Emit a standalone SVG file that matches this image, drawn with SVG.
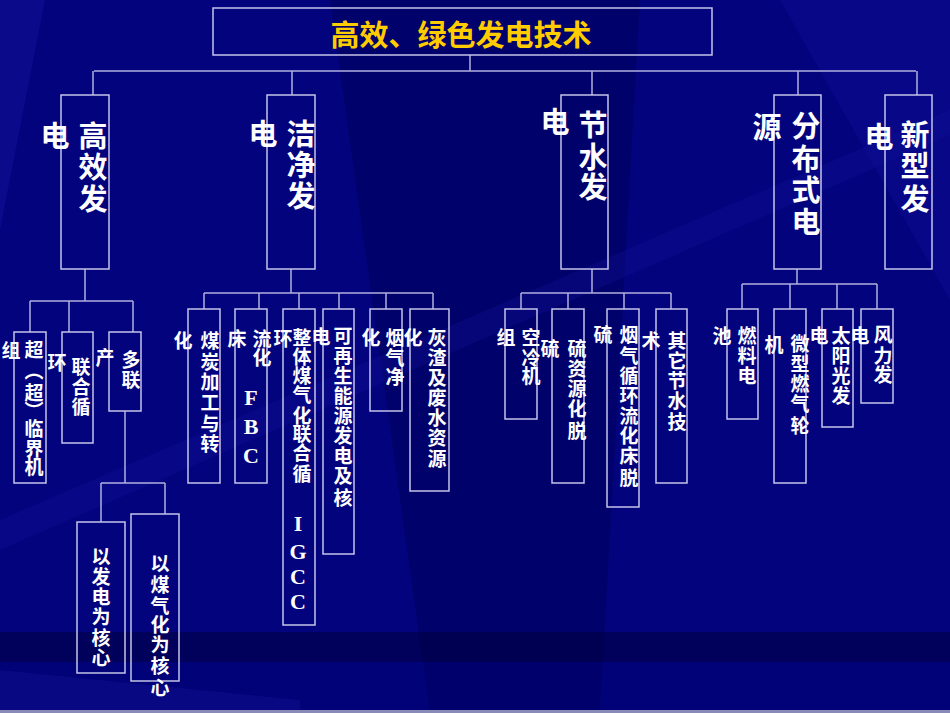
<svg xmlns="http://www.w3.org/2000/svg" width="950" height="713" viewBox="0 0 950 713">
<style>
.bx{fill:none;stroke:#c4c4e8;stroke-width:1.5}
.ln{fill:none;stroke:#b0b0e0;stroke-width:1.5}
.t1{font-family:"Noto Sans CJK SC","Noto Sans CJK TC",sans-serif;font-size:29px;font-weight:bold;fill:#ffffff;text-anchor:middle;dominant-baseline:central}
.t2{font-family:"Noto Sans CJK SC","Noto Sans CJK TC",sans-serif;font-size:19px;font-weight:bold;fill:#ffffff;text-anchor:middle;dominant-baseline:central}
.lt{font-family:"Liberation Serif",serif;font-size:22px;font-weight:bold;fill:#ffffff;text-anchor:middle;dominant-baseline:central}
.tt{font-family:"Noto Sans CJK SC","Noto Sans CJK TC",sans-serif;font-size:29px;font-weight:bold;fill:#ffcc00;text-anchor:middle;dominant-baseline:central}
</style>
<g id="background">
<rect x="0" y="0" width="950" height="713" fill="#03037e"/>
<polygon points="0,0 45,0 0,230" fill="#1a1aa0" opacity="0.35"/>
<polygon points="330,0 640,0 600,713 430,713" fill="#00004a" opacity="0.35"/>
<polygon points="0,520 950,110 950,135 0,550" fill="#1818a0" opacity="0.25"/>
<polygon points="780,0 950,0 950,300" fill="#1010a0" opacity="0.3"/>
<rect x="0" y="632" width="950" height="30" fill="#000040" opacity="0.55"/>
<rect x="0" y="662" width="950" height="48" fill="#000070" opacity="0.4"/>
<polygon points="0,670 300,700 300,710 0,710" fill="#1a1a9a" opacity="0.3"/>
<rect x="0" y="710" width="950" height="3" fill="#8a8ab8"/>
</g>
<g id="connectors">
<path class="ln" d="M470,55V71M94,71H916M93,71V95M292,71V95M592,71V95M798,71V95M917,71V95"/>
<path class="ln" d="M85,269V301M30,301H133M30,301V332M69,301V332M133,301V332"/>
<path class="ln" d="M125,411V483M101,483H165M101,483V522M165,483V514"/>
<path class="ln" d="M291,269V293M204,293H433M204,293V309M259,293V309M299,293V309M339,293V309M386,293V309M433,293V309"/>
<path class="ln" d="M592,269V293M521,293H671M521,293V309M568,293V309M624,293V309M671,293V309"/>
<path class="ln" d="M797,269V284M742,284H877M742,284V309M790,284V309M837,284V309M877,284V309"/>
</g>
<g id="title">
<rect class="bx" x="213" y="8" width="499" height="47"/>
<text class="tt" x="461" y="33">高效、绿色发电技术</text>
</g>
<g id="n-gaoxiao">
<rect class="bx" x="61" y="95" width="48" height="174"/>
<text class="t1" x="93 93 93" y="134 165 197">高效发</text>
<text class="t1" x="55" y="134">电</text>
</g>
<g id="n-jiejing">
<rect class="bx" x="267" y="95" width="48" height="174"/>
<text class="t1" x="301 301 301" y="132 163 194">洁净发</text>
<text class="t1" x="263" y="132">电</text>
</g>
<g id="n-jieshui">
<rect class="bx" x="561" y="95" width="47" height="174"/>
<text class="t1" x="593 593 593" y="123 155 185">节水发</text>
<text class="t1" x="555" y="120">电</text>
</g>
<g id="n-fenbu">
<rect class="bx" x="774" y="95" width="47" height="174"/>
<text class="t1" x="806 806 806 806" y="124 157 188 220">分布式电</text>
<text class="t1" x="767" y="125">源</text>
</g>
<g id="n-xinxing">
<rect class="bx" x="885" y="95" width="47" height="174"/>
<text class="t1" x="915 915 915" y="133 164 197">新型发</text>
<text class="t1" x="879" y="135">电</text>
</g>
<g id="n-chaolinjie">
<rect class="bx" x="14" y="332" width="32" height="151"/>
<text class="t2" x="34 34 34 34 34 34 34" y="348 369 391 409 427 447 465">超︵超︶临界机</text>
<text class="t2" x="11" y="349">组</text>
</g>
<g id="n-lianhe">
<rect class="bx" x="62" y="332" width="31" height="111"/>
<text class="t2" x="81 81 81" y="365 385 405">联合循</text>
<text class="t2" x="57" y="361">环</text>
</g>
<g id="n-duolian">
<rect class="bx" x="109" y="332" width="32" height="79"/>
<text class="t2" x="131 131" y="358 378">多联</text>
<text class="t2" x="105" y="356">产</text>
</g>
<g id="n-fadian">
<rect class="bx" x="77" y="522" width="48" height="151"/>
<text class="t2" x="101 101 101 101 101 101" y="555 575 595 615 636 656">以发电为核心</text>
</g>
<g id="n-meiqihua">
<rect class="bx" x="131" y="514" width="48" height="167"/>
<text class="t2" x="160 160 160 160 160 160 160" y="562 583 604 623 643 664 686">以煤气化为核心</text>
</g>
<g id="n-meitan">
<rect class="bx" x="188" y="309" width="32" height="174"/>
<text class="t2" x="210 210 210 210 210 210" y="339 360 380 401 422 442">煤炭加工与转</text>
<text class="t2" x="183" y="339">化</text>
</g>
<g id="n-fbc">
<rect class="bx" x="235" y="309" width="32" height="174"/>
<text class="t2" x="262 262" y="337 356">流化</text>
<text class="t2" x="237" y="337">床</text>
<text class="lt" x="251 251 251" y="397 426 455">FBC</text>
</g>
<g id="n-igcc">
<rect class="bx" x="283" y="309" width="32" height="316"/>
<text class="t2" x="302 302 302 302 302 302 302 302" y="336 355 374 393 414 432 451 472">整体煤气化联合循</text>
<text class="t2" x="283" y="337">环</text>
<text class="lt" x="298 298 298 298" y="523 551 576 601">IGCC</text>
</g>
<g id="n-kezaisheng">
<rect class="bx" x="323" y="309" width="31" height="245"/>
<text class="t2" x="343 343 343 343 343 343 343 343 343" y="334 354 374 394 414 434 454 474 496">可再生能源发电及核</text>
<text class="t2" x="321" y="335">电</text>
</g>
<g id="n-yanqi">
<rect class="bx" x="370" y="309" width="32" height="102"/>
<text class="t2" x="395 395 395" y="336 356 375">烟气净</text>
<text class="t2" x="371" y="336">化</text>
</g>
<g id="n-huizha">
<rect class="bx" x="410" y="309" width="39" height="182"/>
<text class="t2" x="437 437 437 437 437 437 437" y="336 356 376 396 416 436 457">灰渣及废水资源</text>
<text class="t2" x="413" y="336">化</text>
</g>
<g id="n-kongleng">
<rect class="bx" x="505" y="309" width="32" height="110"/>
<text class="t2" x="531 531 531" y="336 356 374">空冷机</text>
<text class="t2" x="506" y="336">组</text>
</g>
<g id="n-liuziyuan">
<rect class="bx" x="552" y="309" width="32" height="174"/>
<text class="t2" x="577 577 577 577 577" y="347 367 387 407 429">硫资源化脱</text>
<text class="t2" x="550" y="347">硫</text>
</g>
<g id="n-yanqixunhuan">
<rect class="bx" x="607" y="309" width="32" height="198"/>
<text class="t2" x="629 629 629 629 629 629 629 629" y="333 354 374 394 414 434 454 476">烟气循环流化床脱</text>
<text class="t2" x="603" y="333">硫</text>
</g>
<g id="n-qita">
<rect class="bx" x="656" y="309" width="31" height="174"/>
<text class="t2" x="677 677 677 677 677" y="339 359 379 399 420">其它节水技</text>
<text class="t2" x="651" y="339">术</text>
</g>
<g id="n-ranliao">
<rect class="bx" x="727" y="309" width="31" height="110"/>
<text class="t2" x="747 747 747" y="334 354 374">燃料电</text>
<text class="t2" x="722" y="334">池</text>
</g>
<g id="n-weixing">
<rect class="bx" x="774" y="309" width="32" height="174"/>
<text class="t2" x="800 800 800 800 800" y="342 362 382 402 424">微型燃气轮</text>
<text class="t2" x="774" y="343">机</text>
</g>
<g id="n-taiyang">
<rect class="bx" x="822" y="309" width="31" height="118"/>
<text class="t2" x="841 841 841 841" y="334 354 374 394">太阳光发</text>
<text class="t2" x="819" y="334">电</text>
</g>
<g id="n-fengli">
<rect class="bx" x="861" y="309" width="32" height="94"/>
<text class="t2" x="883 883 883" y="333 354 373">风力发</text>
<text class="t2" x="860" y="334">电</text>
</g>
</svg>
